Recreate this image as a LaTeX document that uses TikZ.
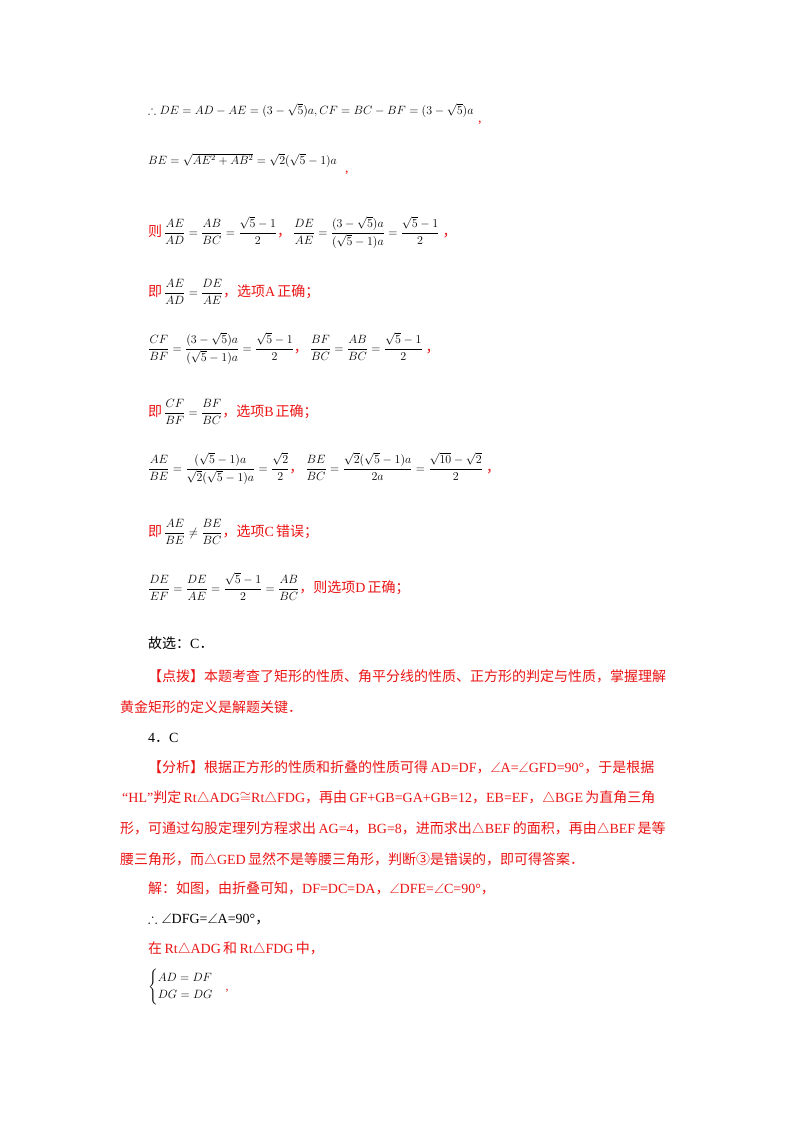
\documentclass[tikz,border=0pt]{standalone}
\usepackage{amsmath,amssymb}
\usepackage{fontspec}
\setmainfont{Liberation Serif}
\newfontfamily\cjk{Noto Sans CJK SC}
\definecolor{myred}{RGB}{235,20,20}
\newcommand{\zh}[1]{{\cjk\fontsize{14}{16}\selectfont #1}}
\newcommand{\lt}[1]{{\fontsize{14}{16}\selectfont #1}}
\begin{document}
\begin{tikzpicture}[x=1pt,y=-1pt,
  t/.style={anchor=base west,inner sep=0pt,font=\fontsize{14}{16}\selectfont},
  r/.style={t,text=myred},
  m/.style={anchor=base west,inner sep=0pt,font=\fontsize{12}{14}\selectfont},
  mr/.style={m,text=myred}]
\useasboundingbox (0,0) rectangle (800,1132);
\node[m] (l1) at (148,114) {$\therefore DE=AD-AE=(3-\sqrt5)a,CF=BC-BF=(3-\sqrt5)a$};
\node[r] (c1) at (478,122) {,};
\node[m] (l2) at (148,164) {$BE=\sqrt{AE^2+AB^2}=\sqrt2(\sqrt5-1)a$};
\node[r] (c2) at (345,172) {,};
\node[mr] (l3) at (148,236) {\zh{则}\,\textcolor{black}{$\dfrac{AE}{AD}=\dfrac{AB}{BC}=\dfrac{\sqrt5-1}{2}$}\zh{，}\,\textcolor{black}{$\dfrac{DE}{AE}=\dfrac{(3-\sqrt5)a}{(\sqrt5-1)a}=\dfrac{\sqrt5-1}{2}$}\ \zh{，}};
\node[mr] (l4) at (148,296) {\zh{即}\,\textcolor{black}{$\dfrac{AE}{AD}=\dfrac{DE}{AE}$}\zh{，选项}\lt{A}\,\zh{正确；}};
\node[mr] (l5) at (148,352) {\textcolor{black}{$\dfrac{CF}{BF}=\dfrac{(3-\sqrt5)a}{(\sqrt5-1)a}=\dfrac{\sqrt5-1}{2}$}\zh{，}\,\textcolor{black}{$\dfrac{BF}{BC}=\dfrac{AB}{BC}=\dfrac{\sqrt5-1}{2}$}\ \zh{，}};
\node[mr] (l6) at (148,416) {\zh{即}\,\textcolor{black}{$\dfrac{CF}{BF}=\dfrac{BF}{BC}$}\zh{，选项}\lt{B}\,\zh{正确；}};
\node[mr] (l7) at (148,472) {\textcolor{black}{$\dfrac{AE}{BE}=\dfrac{(\sqrt5-1)a}{\sqrt2(\sqrt5-1)a}=\dfrac{\sqrt2}{2}$}\zh{，}\,\textcolor{black}{$\dfrac{BE}{BC}=\dfrac{\sqrt2(\sqrt5-1)a}{2a}=\dfrac{\sqrt{10}-\sqrt2}{2}$}\ \zh{，}};
\node[mr] (l8) at (148,536) {\zh{即}\,\textcolor{black}{$\dfrac{AE}{BE}\neq\dfrac{BE}{BC}$}\zh{，选项}\lt{C}\,\zh{错误；}};
\node[mr] (l9) at (148,592) {\textcolor{black}{$\dfrac{DE}{EF}=\dfrac{DE}{AE}=\dfrac{\sqrt5-1}{2}=\dfrac{AB}{BC}$}\zh{，则选项}\lt{D}\,\zh{正确；}};
\node[t] (l10) at (148,648) {\zh{故选：}C\zh{．}};
\node[r] (l11) at (148,681) {\zh{【点拨】本题考查了矩形的性质、角平分线的性质、正方形的判定与性质，掌握理解}};
\node[r] (l12) at (120,712) {\zh{黄金矩形的定义是解题关键．}};
\node[t] (l13) at (148,742) {4\zh{．}C};
\node[r] (l14) at (148,772) {\zh{【分析】根据正方形的性质和折叠的性质可得}\,AD=DF\zh{，}$\angle$A=$\angle$GFD=90°\zh{，于是根据}};
\node[r] (l15) at (122,802) {“HL”\zh{判定}\,Rt$\triangle$ADG$\cong$Rt$\triangle$FDG\zh{，再由}\,GF+GB=GA+GB=12\zh{，}EB=EF\zh{，}$\triangle$BGE\,\zh{为直角三角}};
\node[r] (l16) at (120,833) {\zh{形，可通过勾股定理列方程求出}\,AG=4\zh{，}BG=8\zh{，进而求出}$\triangle$BEF\,\zh{的面积，再由}$\triangle$BEF\,\zh{是等}};
\node[r] (l17) at (120,864) {\zh{腰三角形，而}$\triangle$GED\,\zh{显然不是等腰三角形，判断③是错误的，即可得答案．}};
\node[r] (l18) at (148,893) {\zh{解：如图，由折叠可知，}DF=DC=DA\zh{，}$\angle$DFE=$\angle$C=90°\zh{，}};
\node[t] (l19) at (148,923) {$\therefore\angle$DFG=$\angle$A=90°\zh{，}};
\node[r] (l20) at (148,953) {\zh{在}\,Rt$\triangle$ADG\,\zh{和}\,Rt$\triangle$FDG\,\zh{中，}};
\node[m] (l21) at (148,990) {$\begin{cases}AD=DF\\DG=DG\end{cases}$\textcolor{myred}{,}};
\end{tikzpicture}
\end{document}
